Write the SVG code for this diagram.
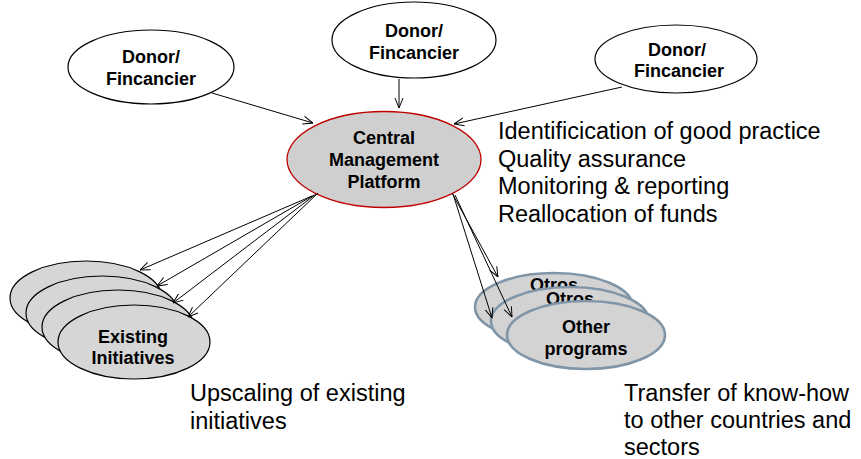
<svg xmlns="http://www.w3.org/2000/svg" width="861" height="459" viewBox="0 0 861 459">
<style>
.donor{fill:#fff;stroke:#000;stroke-width:1.2}
.central{fill:#cfcfcf;stroke:#c00000;stroke-width:1.3}
.exist{fill:#d6d6d6;stroke:#000;stroke-width:1.2}
.other{fill:#d3d3d3;stroke:#8096a8;stroke-width:2.6}
.b{font-family:"Liberation Sans",Arial,sans-serif;font-weight:bold;font-size:18px;fill:#000;text-anchor:middle}
.t{font-family:"Liberation Sans",Arial,sans-serif;font-size:23.5px;fill:#000}
.c{fill:none;stroke:#000;stroke-width:1;marker-end:url(#arr)}
</style>
<defs>
<marker id="arr" viewBox="0 0 10 10" refX="10" refY="5" markerWidth="10" markerHeight="10" markerUnits="userSpaceOnUse" orient="auto">
<path d="M0,1 L10,5 L0,9" fill="none" stroke="#000" stroke-width="1"/>
</marker>
</defs>
<rect width="861" height="459" fill="#fff"/>
<g id="donor1"><ellipse class="donor" cx="151" cy="67" rx="83" ry="37"/><text class="b" x="151" y="63">Donor/</text><text class="b" x="151" y="85">Fincancier</text></g>
<g id="donor2"><ellipse class="donor" cx="414" cy="40" rx="82" ry="38"/><text class="b" x="414" y="37">Donor/</text><text class="b" x="414" y="59">Fincancier</text></g>
<g id="donor3"><ellipse class="donor" cx="676" cy="59" rx="81" ry="34"/><text class="b" x="677" y="56">Donor/</text><text class="b" x="679" y="77">Fincancier</text></g>
<g id="central"><ellipse class="central" cx="384" cy="159.5" rx="97" ry="48"/><text class="b" x="384" y="144">Central</text><text class="b" x="384" y="166">Management</text><text class="b" x="384" y="188">Platform</text></g>
<g id="existing">
<ellipse class="exist" cx="86" cy="298" rx="76" ry="37"/>
<ellipse class="exist" cx="102" cy="313" rx="76" ry="37"/>
<ellipse class="exist" cx="118" cy="327" rx="76" ry="37"/>
<ellipse class="exist" cx="134" cy="342" rx="76" ry="37"/>
<text class="b" x="133" y="343">Existing</text><text class="b" x="133" y="364">Initiatives</text>
</g>
<g id="other">
<ellipse class="other" cx="554" cy="307" rx="79" ry="34"/><text class="b" x="554" y="291">Otros</text>
<ellipse class="other" cx="570" cy="321" rx="79" ry="34"/><text class="b" x="570" y="305">Otros</text>
<ellipse class="other" cx="586" cy="335" rx="79" ry="34"/><text class="b" x="586" y="333">Other</text><text class="b" x="586" y="355">programs</text>
</g>
<g id="connectors">
<line class="c" x1="212" y1="93" x2="313" y2="123"/>
<line class="c" x1="399" y1="79" x2="399" y2="108"/>
<line class="c" x1="622" y1="87" x2="454" y2="124"/>
<line class="c" x1="312" y1="196" x2="140" y2="270"/>
<line class="c" x1="314" y1="195" x2="157" y2="286"/>
<line class="c" x1="316" y1="194" x2="173" y2="303"/>
<line class="c" x1="318" y1="193" x2="188" y2="317"/>
<line class="c" x1="452" y1="193" x2="498" y2="277"/>
<line class="c" x1="453" y1="194" x2="492" y2="318"/>
<line class="c" x1="455" y1="195" x2="512" y2="317"/>
</g>
<g id="labels">
<text class="t" x="498" y="139">Identificication of good practice</text>
<text class="t" x="498" y="167">Quality assurance</text>
<text class="t" x="498" y="194">Monitoring &amp; reporting</text>
<text class="t" x="498" y="222">Reallocation of funds</text>
<text class="t" x="190" y="401">Upscaling of existing</text>
<text class="t" x="190" y="429">initiatives</text>
<text class="t" x="624" y="401">Transfer of know-how</text>
<text class="t" x="624" y="428">to other countries and</text>
<text class="t" x="624" y="455">sectors</text>
</g>
</svg>
